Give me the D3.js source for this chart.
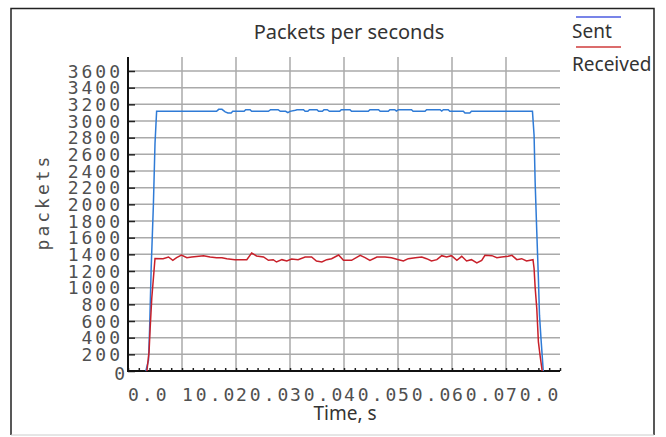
<html>
  <head>
    <script type="text/javascript" src="https://cdn.jsdelivr.net/npm/d3@7"></script>
    <style>
      body { margin: 0; background: #fff; }
      .mono { font-family: "DejaVu Sans Mono", monospace; font-size: 18px; letter-spacing: 3px; fill: #505050; }
      .sans { font-family: "Noto Sans", sans-serif; fill: #333; }
    </style>
    <script type="text/javascript">

    // time (s) and packets per second
    var sentT = [3.3, 3.8, 4.0, 4.3, 4.7, 5.0, 5.3,
                 16.4, 16.8, 17.4, 18.0, 18.5, 19.1, 19.4, 21.5, 21.8, 22.6, 22.9,
                 26.0, 26.4, 27.8, 28.2, 29.2, 29.6, 30.0, 31.0, 31.3, 32.5, 32.8,
                 33.3, 33.6, 35.0, 35.3, 36.0, 36.3, 36.9, 37.3, 39.2, 39.5, 41.1,
                 41.4, 44.5, 44.8, 46.4, 46.7, 48.2, 48.5, 49.4, 49.7, 50.1, 52.5,
                 52.8, 55.0, 55.3, 57.8, 58.1, 58.4, 59.3, 59.6, 62.1, 62.4, 63.3,
                 63.6, 74.9,
                 75.2, 75.4, 75.7, 76.0, 76.2, 76.5, 76.9];
    var sentV = [0, 130, 500, 1250, 1990, 2730, 3116,
                 3116, 3140, 3140, 3110, 3096, 3096, 3116, 3116, 3136, 3136, 3116,
                 3116, 3136, 3136, 3116, 3116, 3100, 3116, 3130, 3136, 3136, 3116,
                 3116, 3136, 3136, 3116, 3116, 3136, 3136, 3116, 3116, 3136, 3136,
                 3116, 3116, 3136, 3136, 3116, 3116, 3136, 3136, 3120, 3136, 3136,
                 3116, 3116, 3136, 3136, 3120, 3136, 3136, 3116, 3116, 3096, 3096,
                 3116, 3116,
                 2830, 2260, 1670, 1110, 670, 370, 0];

    var recvT = [3.5, 3.9, 4.1, 4.4, 4.8, 5.0,
                 6.5, 7.5, 8.3, 9.0, 9.9, 10.9, 11.8, 14.0, 15.2, 16.4, 17.4, 18.3,
                 19.8, 22.0, 22.9, 23.8, 25.1, 26.0, 26.9, 27.5, 28.5, 29.4, 30.3,
                 31.5, 32.8, 34.0, 34.9, 35.9, 36.8, 37.7, 39.0, 39.9, 41.4, 43.0,
                 43.9, 44.8, 46.1, 47.6, 48.8, 50.1, 51.0, 51.9, 53.2, 54.4, 55.3,
                 56.2, 57.2, 58.1, 59.0, 59.9, 60.9, 61.8, 62.7, 63.6, 64.6, 65.5,
                 66.1, 67.4, 68.3, 69.2, 70.4, 71.1, 72.0, 72.9, 73.8, 75.0,
                 75.2, 75.4, 75.7, 76.0, 76.3, 76.7];
    var recvV = [0, 230, 510, 870, 1190, 1350,
                 1348, 1368, 1328, 1360, 1392, 1360, 1368, 1384, 1368, 1360, 1360, 1348,
                 1336, 1336, 1416, 1380, 1368, 1328, 1336, 1308, 1336, 1320, 1344,
                 1336, 1368, 1368, 1320, 1308, 1336, 1348, 1392, 1328, 1328, 1388,
                 1360, 1328, 1368, 1368, 1360, 1336, 1320, 1348, 1360, 1368, 1348,
                 1320, 1336, 1384, 1368, 1384, 1328, 1376, 1320, 1336, 1296, 1328,
                 1388, 1384, 1360, 1368, 1376, 1388, 1336, 1348, 1320, 1335,
                 1230, 1000, 750, 350, 190, 0];

    var xTicks = [0, 10, 20, 30, 40, 50, 60, 70];
    var xTickLabels = ["0.0", "10.0", "20.0", "30.0", "40.0", "50.0", "60.0", "70.0"];
    var yTicks = [0, 200, 400, 600, 800, 1000, 1200, 1400, 1600, 1800, 2000,
                  2200, 2400, 2600, 2800, 3000, 3200, 3400, 3600];
    var legendNames = ["Sent", "Received"];

    function draw(){
      var W = 666, H = 437;
      var left = 128, right = 560, top = 57, bottom = 371;

      var svg = d3.select("body").append("svg")
                  .attr("width", W)
                  .attr("height", H);

      // frame
      svg.append("path").attr("d", "M11,435 L11,8.5 L654,8.5 L654,435")
         .attr("fill", "none").attr("stroke", "#222").attr("stroke-width", 1.5);
      svg.append("line").attr("x1", 11).attr("x2", 654).attr("y1", 435).attr("y2", 435)
         .attr("stroke", "#ccc");

      var x = d3.scaleLinear().domain([0, 80]).range([left, right]);
      var y = d3.scaleLinear().domain([0, 3768]).range([bottom, top]);

      // grid
      svg.append("g").selectAll("line").data(yTicks.filter(function(d){ return d > 0; }))
         .enter().append("line")
         .attr("x1", left).attr("x2", right)
         .attr("y1", function(d){ return y(d); }).attr("y2", function(d){ return y(d); })
         .attr("stroke", "#aaa").attr("stroke-width", 1.5);
      svg.append("g").selectAll("line").data(xTicks.filter(function(d){ return d > 0; }))
         .enter().append("line")
         .attr("x1", function(d){ return x(d); }).attr("x2", function(d){ return x(d); })
         .attr("y1", top).attr("y2", bottom)
         .attr("stroke", "#aaa").attr("stroke-width", 1.5);

      // y axis: ticks inside, labels drawn separately
      var yAxis = svg.append("g").attr("transform", "translate(" + left + ",0)")
         .call(d3.axisRight(y).tickValues(yTicks).tickSize(7).tickSizeOuter(0).tickFormat(""));
      yAxis.select(".domain").remove();
      yAxis.selectAll("line").attr("stroke", "#222").attr("stroke-width", 1.5);

      svg.append("g").selectAll("text").data(yTicks).enter().append("text")
         .attr("class", "mono")
         .attr("text-anchor", "end")
         .attr("x", function(d){ return d === 0 ? 128 : 123; })
         .attr("y", function(d){ return y(d) + (d === 0 ? 8.5 : 6.5); })
         .text(function(d){ return d; });

      // x axis: major and minor ticks pointing up
      var xAxis = svg.append("g").attr("transform", "translate(0," + bottom + ")")
         .call(d3.axisTop(x).ticks(40).tickSize(3).tickSizeOuter(0).tickFormat(""));
      xAxis.select(".domain").remove();
      xAxis.selectAll("line").attr("stroke", "#222").attr("stroke-width", 1.5);

      svg.append("g").selectAll("text").data(xTicks).enter().append("text")
         .attr("class", "mono")
         .attr("x", function(d){ return x(d); })
         .attr("y", 401)
         .text(function(d, i){ return xTickLabels[i]; });

      // axis lines
      svg.append("line").attr("x1", left).attr("x2", left).attr("y1", top).attr("y2", bottom + 1)
         .attr("stroke", "#111").attr("stroke-width", 2);
      svg.append("line").attr("x1", left).attr("x2", right).attr("y1", bottom).attr("y2", bottom)
         .attr("stroke", "#111").attr("stroke-width", 2);

      // series
      var line = d3.line()
                   .x(function(d){ return x(d[0]); })
                   .y(function(d){ return y(d[1]); });
      svg.append("path").datum(d3.zip(sentT, sentV))
         .attr("d", line).attr("fill", "none")
         .attr("stroke", "#2f7bd6").attr("stroke-width", 1.5);
      svg.append("path").datum(d3.zip(recvT, recvV))
         .attr("d", line).attr("fill", "none")
         .attr("stroke", "#c8202a").attr("stroke-width", 1.5);

      // titles
      svg.append("text").attr("class", "sans")
         .attr("x", 349).attr("y", 39).attr("text-anchor", "middle")
         .style("font-size", "20px").text("Packets per seconds");
      svg.append("text").attr("class", "sans")
         .attr("x", 345).attr("y", 420).attr("text-anchor", "middle")
         .style("font-size", "19px").text("Time, s");
      svg.append("text").attr("class", "mono")
         .attr("transform", "translate(49,202) rotate(-90)")
         .attr("text-anchor", "middle")
         .text("packets");

      // legend
      var legendColors = ["#4b5be0", "#cf3b3b"];
      var legendLineY = [17, 47];
      var legendTextY = [38, 71];
      svg.append("g").selectAll("line").data(legendNames).enter().append("line")
         .attr("x1", 576).attr("x2", 621)
         .attr("y1", function(d, i){ return legendLineY[i]; })
         .attr("y2", function(d, i){ return legendLineY[i]; })
         .attr("stroke", function(d, i){ return legendColors[i]; })
         .attr("stroke-width", 1.5);
      svg.append("g").selectAll("text").data(legendNames).enter().append("text")
         .attr("class", "sans")
         .attr("x", 572)
         .attr("y", function(d, i){ return legendTextY[i]; })
         .style("font-size", "19px")
         .text(function(d){ return d; });
    }
    window.onload = function(){
      draw();
    }
    </script>
  </head>
  <body>
  </body>
</html>
